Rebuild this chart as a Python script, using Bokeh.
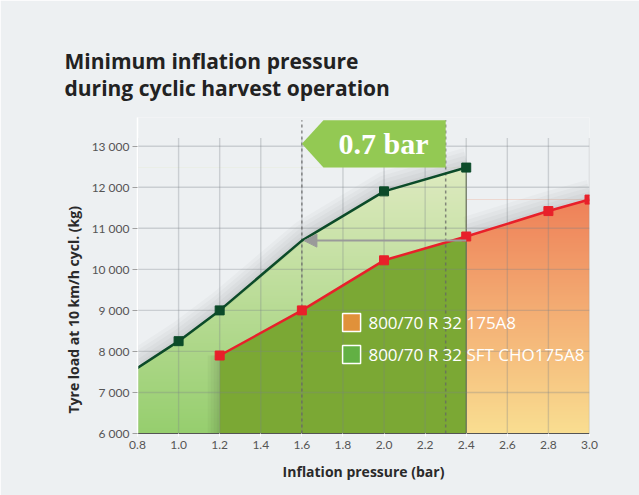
import numpy as np
from bokeh.plotting import figure
from bokeh.models import Label, Arrow, NormalHead, FixedTicker, Title
from bokeh.core.properties import value
from bokeh.embed import file_html
from bokeh.resources import INLINE

# ---------------- data ----------------
pressure_sft = [0.8, 1.0, 1.2, 1.6, 2.0, 2.4]
load_sft = [7600, 8250, 9000, 10700, 11900, 12480]
marked_sft = [False, True, True, False, True, True]

pressure_std = [1.2, 1.6, 2.0, 2.4, 2.8, 3.0]
load_std = [7900, 9000, 10220, 10800, 11420, 11700]

x_ticks = [0.8, 1.0, 1.2, 1.4, 1.6, 1.8, 2.0, 2.2, 2.4, 2.6, 2.8, 3.0]
x_labels = ["0.8", "1.0", "1.2", "1.4", "1.6", "1.8", "2.0", "2.2", "2.4", "2.6", "2.8", "3.0"]
y_ticks = [6000, 7000, 8000, 9000, 10000, 11000, 12000, 13000]
y_labels = ["6 000", "7 000", "8 000", "9 000", "10 000", "11 000", "12 000", "13 000"]

bracket_x = [1.6, 2.3]          # pressures compared
bracket_text = "0.7 bar"
arrow_load = 10700
series_names = ["800/70 R 32 175A8", "800/70 R 32 SFT CHO175A8"]

title_text = "Minimum inflation pressure\nduring cyclic harvest operation"
x_title = "Inflation pressure (bar)"
y_title = "Tyre load at 10 km/h cycl. (kg)"

BG = "#edf0f2"
Y0 = y_ticks[0]
DY = 24.4      # one pixel in load units
DX = 0.00487   # one pixel in pressure units

# ---------------- figure ----------------
p = figure(width=639, height=495, output_backend="svg", toolbar_location=None,
           x_range=(x_ticks[0], x_ticks[-1]), y_range=(Y0, 13700),
           min_border_left=137, min_border_right=50, min_border_top=117,
           min_border_bottom=62, background_fill_color=BG, border_fill_color=BG)
p.outline_line_color = None
p.grid.visible = False


def vgrad(bottom, top, n=300):
    b = np.array(bottom, dtype=float)
    t = np.array(top, dtype=float)
    f = np.linspace(0, 1, n)[:, None]
    rgb = np.round(b + (t - b) * f).astype(np.uint8)
    img = np.empty((n, 1), dtype=np.uint32)
    v = img.view(dtype=np.uint8).reshape((n, 1, 4))
    v[:, 0, 0] = rgb[:, 0]
    v[:, 0, 1] = rgb[:, 1]
    v[:, 0, 2] = rgb[:, 2]
    v[:, 0, 3] = 255
    return img


# light green gradient area under SFT curve
top_sft = max(load_sft)
p.image_rgba(image=[vgrad((150, 206, 110), (222, 234, 192))], x=pressure_sft[0], y=Y0,
             dw=pressure_sft[-1] - pressure_sft[0], dh=top_sft - Y0)
p.varea(x=pressure_sft, y1=load_sft, y2=[top_sft] * len(load_sft), fill_color=BG)

# orange gradient area under standard curve beyond SFT range
std_out = [i for i, x in enumerate(pressure_std) if x >= pressure_sft[-1]]
top_std = max(load_std)
p.image_rgba(image=[vgrad((249, 222, 145), (238, 128, 88))], x=pressure_sft[-1], y=Y0,
             dw=pressure_std[-1] - pressure_sft[-1], dh=top_std - Y0)
p.varea(x=[pressure_std[i] for i in std_out], y1=[load_std[i] for i in std_out],
        y2=[top_std] * len(std_out), fill_color=BG)

# soft shadows: stacked translucent strokes that stay outside each area
std_in = [i for i, x in enumerate(pressure_std) if x <= pressure_sft[-1]]
for o in [2, 4, 6, 8, 10]:
    p.line(pressure_sft, [v + o * DY for v in load_sft], line_color="black",
           line_width=2 * o, line_alpha=0.022)
    p.line([pressure_std[i] for i in std_out], [load_std[i] + o * DY for i in std_out],
           line_color="black", line_width=2 * o, line_alpha=0.022)
for o in [1.5, 3, 4.5, 6]:
    p.segment(x0=[pressure_std[0] - o * DX], y0=[Y0], x1=[pressure_std[0] - o * DX],
              y1=[load_std[0]], line_color="black", line_width=2 * o, line_alpha=0.03)

# olive area under standard curve (where SFT exists)
p.varea(x=[pressure_std[i] for i in std_in], y1=[Y0] * len(std_in),
        y2=[load_std[i] for i in std_in], fill_color="#7ba834")

# area edges
p.segment(x0=[pressure_sft[0], pressure_sft[-1]], y0=[Y0, Y0],
          x1=[pressure_sft[0], pressure_sft[-1]], y1=[load_sft[0], load_sft[-1]],
          line_color="#55603f", line_width=1)

# grid lines (on top of areas, translucent)
p.segment(x0=x_ticks, y0=[Y0] * len(x_ticks), x1=x_ticks, y1=[13200] * len(x_ticks),
          line_color="#7c8288", line_alpha=0.3, line_width=1.4)
p.segment(x0=[x_ticks[0]] * (len(y_ticks) - 1), y0=y_ticks[1:],
          x1=[x_ticks[-1]] * (len(y_ticks) - 1), y1=y_ticks[1:],
          line_color="#7c8288", line_alpha=0.3, line_width=1.4)

# dashed bracket lines
p.segment(x0=bracket_x, y0=[Y0, Y0], x1=bracket_x, y1=[13630, 13630],
          line_color="#666666", line_alpha=0.75, line_width=1.5, line_dash="3 3")

# bracket label box (pentagon pointing left)
p.patch(x=[bracket_x[0], bracket_x[0] + 0.105, bracket_x[1], bracket_x[1], bracket_x[0] + 0.105],
        y=[13060, 13630, 13630, 12480, 12480], fill_color="#93c953", line_color=None)
p.add_layout(Label(x=(bracket_x[0] + 0.105 + bracket_x[1]) / 2 - 0.005, y=13055, text=bracket_text,
                   text_align="center", text_baseline="middle", text_color="white",
                   text_font="Liberation Serif", text_font_style="bold",
                   text_font_size="30px"))

# arrow from 2.4 bar back to 1.6 bar
p.add_layout(Arrow(end=NormalHead(size=13, fill_color="#9a9a9a", line_color="#9a9a9a"),
                   x_start=pressure_sft[-1], y_start=arrow_load, x_end=bracket_x[0] + 0.01,
                   y_end=arrow_load, line_color="#9a9a9a", line_width=2))

# curves
p.line(pressure_std, load_std, line_color="#e8202a", line_width=2.5)
p.scatter(pressure_std, load_std, marker="square", size=9, fill_color="#e8202a",
          line_color="#e8202a")
p.line(pressure_sft, load_sft, line_color="#0c4b29", line_width=2.5)
p.scatter([x for x, m in zip(pressure_sft, marked_sft) if m],
          [y for y, m in zip(load_sft, marked_sft) if m], marker="square", size=9,
          fill_color="#0c4b29", line_color="#0c4b29")

# legend
p.scatter([1.842, 1.842], [8705, 7925], marker="square", size=18,
          fill_color=["#e0913a", "#62b044"], line_color="white", line_width=1.5)
p.text([1.924, 1.924], [8705, 7925], text=series_names, text_color="white",
       text_font=value("Open Sans"), text_font_size="17px", text_baseline="middle")

# axes
p.xaxis.ticker = FixedTicker(ticks=x_ticks)
p.xaxis.major_label_overrides = dict(zip(x_ticks, x_labels))
p.yaxis.ticker = FixedTicker(ticks=y_ticks)
p.yaxis.major_label_overrides = dict(zip(y_ticks, y_labels))
for ax in (p.xaxis[0], p.yaxis[0]):
    ax.minor_tick_line_color = None
    ax.major_tick_in = 0
    ax.major_label_text_font = "Lato"
    ax.major_label_text_font_size = "12px"
    ax.major_label_text_color = "#555555"
p.xaxis.axis_line_color = "#555555"
p.xaxis.major_tick_out = 3
p.xaxis.major_tick_line_color = "#ffffff"
p.xaxis.major_label_standoff = 4
p.yaxis.axis_line_color = "#ffffff"
p.yaxis.axis_line_width = 1.5
p.yaxis.major_tick_out = 5
p.yaxis.major_tick_line_color = "#a0a0a0"
p.yaxis.major_label_standoff = 3

p.xaxis.axis_label = x_title
p.xaxis.axis_label_text_font = "Open Sans"
p.xaxis.axis_label_text_font_style = "bold"
p.xaxis.axis_label_text_font_size = "14px"
p.xaxis.axis_label_text_color = "#2a2a2a"
p.xaxis.axis_label_standoff = 10

# y-axis title as a left-side title so it can be shifted along the axis
p.add_layout(Title(text=y_title, align="left", offset=20, standoff=12,
                   text_font="Open Sans", text_font_style="bold", text_font_size="14px",
                   text_color="#2a2a2a"), "left")

# chart title
p.add_layout(Title(text=title_text, align="left", offset=-73, standoff=31,
                   text_font="Open Sans", text_font_style="bold", text_font_size="21px",
                   text_line_height=0.98, text_color="#222222"), "above")

open("out.html", "w").write(file_html(p, INLINE))
